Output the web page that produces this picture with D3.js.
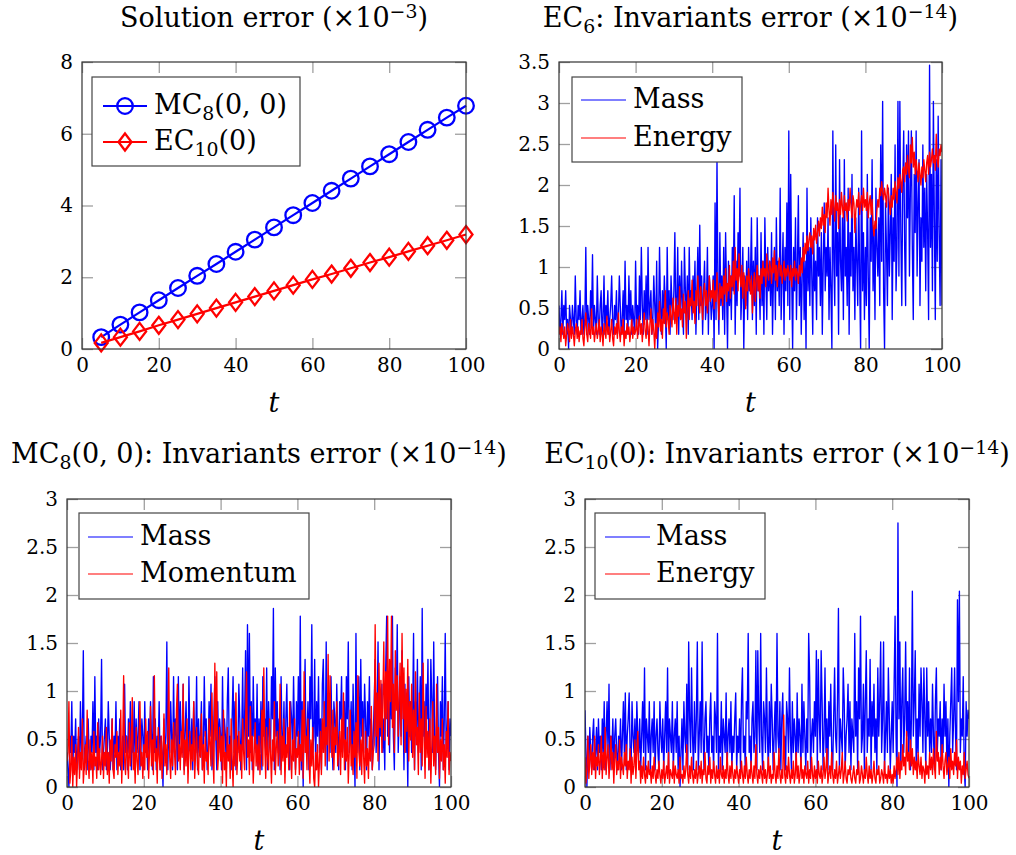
<!DOCTYPE html>
<html>
<head>
<meta charset="utf-8">
<script src="https://cdn.jsdelivr.net/npm/d3@7"></script>
<style>
  body { margin: 0; background: #fff; }
  svg { display: block; font-family: 'DejaVu Serif', 'Liberation Serif', serif; }
</style>
</head>
<body>
<svg width="1016" height="855"></svg>
<script>
// solution error (x1e-3), sampled every 5 time units
const solT = [5, 10, 15, 20, 25, 30, 35, 40, 45, 50, 55, 60, 65, 70, 75, 80, 85, 90, 95, 100]
const solMC8 = [0.33, 0.68, 1.02, 1.36, 1.70, 2.04, 2.37, 2.71, 3.05, 3.39, 3.73, 4.07, 4.41, 4.75, 5.09, 5.43, 5.77, 6.11, 6.45, 6.78]
const solEC10 = [0.17, 0.33, 0.49, 0.66, 0.82, 0.98, 1.14, 1.30, 1.46, 1.62, 1.78, 1.94, 2.09, 2.25, 2.41, 2.56, 2.72, 2.88, 3.03, 3.19]

// invariant errors (x1e-14), one value every 0.25 time units, t = 0..100
// (each line below covers 5 time units)
const ec6Mass = [
  0.53, 0.18, 0.36, 0.71, 0.18, 0.53, 0.36, 0.71, 0.18, 0.36, 0, 0.53, 0.36, 0.18, 0.53, 0.36, 0.18, 0.89, 0.36, 0.18,
  0.53, 0.36, 0.71, 0.18, 0.36, 0.53, 0.18, 0.36, 1.24, 0.18, 0.53, 0.36, 0.18, 0.71, 0.36, 1.15, 0.18, 0.53, 0.36, 0.18,
  0.89, 0.36, 0.18, 0.53, 0.71, 0.18, 0.36, 0.89, 0.18, 0.53, 0.36, 0.71, 0.18, 0.36, 0.53, 0.89, 0.36, 0.18, 0.53, 0.36,
  0.71, 0.18, 0.36, 0.89, 0.53, 0.18, 0.36, 0.71, 0.18, 1.07, 0.36, 0.53, 0.18, 0.89, 0.36, 0.71, 0.18, 0.53, 0.36, 0.18,
  1.07, 0.36, 0.53, 0.18, 0.89, 0.36, 1.24, 0.53, 0.18, 0.71, 0.36, 0.89, 0.18, 1.24, 0.36, 0.53, 0.71, 0.18, 0.36, 0.89,
  0.53, 0.18, 1.07, 0, 0.36, 1.24, 0.53, 0.18, 0.71, 0.36, 0.89, 0.53, 0, 1.24, 0.36, 0.71, 0.18, 0.89, 0.53, 0.36,
  0.71, 1.42, 0.36, 0.53, 1.24, 0.18, 0.89, 0.36, 1.07, 0.53, 0.18, 1.24, 0.71, 0.36, 0.89, 0.18, 1.24, 0.53, 0.71, 0.36,
  0.89, 0.53, 1.07, 0.18, 0.71, 1.24, 0.36, 1.51, 0.53, 0.89, 0.18, 0.71, 1.07, 0.36, 0.53, 1.24, 0.18, 0.89, 0.71, 0.36,
  0.53, 0.89, 0, 1.78, 0.36, 2.31, 0.71, 0.18, 1.42, 0.53, 0.89, 0.36, 1.24, 0.18, 1.42, 0.71, 0, 1.07, 0.53, 0.89,
  0.36, 1.24, 0.71, 1.87, 0.18, 1.07, 0.53, 1.42, 0.89, 1.96, 0.36, 0.71, 1.24, 0, 0.89, 0.53, 1.07, 0.36, 1.24, 0.71,
  0.89, 1.6, 0.36, 1.07, 0.53, 1.24, 0.18, 1.6, 0.71, 0.89, 0.36, 1.42, 0.53, 1.07, 0.18, 1.6, 0.89, 0.36, 1.24, 0.71,
  1.07, 0.53, 1.42, 0.18, 0.89, 1.24, 0.36, 1.6, 0.71, 1.07, 0.53, 1.96, 0.36, 0.89, 1.42, 0.18, 1.24, 0.71, 1.78, 0.53,
  2.66, 0.36, 2.13, 0.89, 0, 1.24, 0.71, 1.6, 0.36, 1.07, 1.87, 0.53, 1.24, 0.18, 0.89, 1.42, 0.36, 1.07, 0, 1.96,
  0.71, 1.24, 0.53, 1.6, 0.89, 0.18, 1.42, 0.71, 1.07, 0.36, 1.6, 0.89, 1.24, 0.53, 1.42, 0.18, 1.07, 1.78, 0.71, 1.24,
  0.89, 1.6, 0.36, 1.24, 0.71, 0, 2.66, 1.07, 0.53, 2.49, 0.89, 1.42, 0.18, 2.31, 1.07, 0.71, 1.6, 0.36, 2.31, 0.89,
  1.24, 0.53, 1.96, 0.18, 1.42, 0.89, 2.13, 0.71, 1.24, 0.36, 1.6, 1.07, 0.53, 1.96, 0.89, 0, 2.66, 0.71, 1.42, 0.36,
  1.24, 0.53, 2.13, 0.89, 0, 1.6, 1.07, 2.31, 0.71, 1.42, 0.36, 1.96, 1.24, 0.89, 1.6, 0.53, 2.49, 1.07, 3.02, 0.71,
  0, 1.78, 1.24, 0.53, 1.96, 0.89, 1.42, 2.13, 0.36, 1.6, 1.07, 2.49, 0.71, 1.24, 3.02, 0.89, 3.02, 1.42, 0.53, 1.96,
  2.66, 1.24, 0.53, 2.49, 1.6, 2.66, 0.89, 1.96, 2.66, 1.24, 0.36, 2.13, 1.42, 2.66, 0.89, 1.78, 2.31, 0.53, 1.6, 1.07,
  2.49, 1.24, 1.96, 0.71, 2.13, 1.42, 0.36, 3.46, 1.24, 2.13, 0.71, 3.02, 1.6, 0.36, 2.31, 1.07, 2.84, 1.42, 0.53, 2.31,
  0.53
]
const ec6Energy = [
  0.18, 0.27, 0.09, 0.31, 0.22, 0.13, 0.27, 0.04, 0.18, 0.31, 0.22, 0.09, 0.36, 0.13, 0.27, 0.18, 0.04, 0.22, 0.31, 0.13,
  0.27, 0.09, 0.22, 0.18, 0.36, 0.13, 0.04, 0.27, 0.44, 0.18, 0.09, 0.31, 0.22, 0.13, 0.49, 0.18, 0.27, 0.09, 0.22, 0.31,
  0.13, 0.22, 0.36, 0.09, 0.27, 0.18, 0.04, 0.31, 0.22, 0.13, 0.4, 0.18, 0.27, 0.09, 0.22, 0.36, 0.13, 0.04, 0.27, 0.18,
  0.31, 0.13, 0.44, 0.22, 0.09, 0.27, 0.18, 0.36, 0.04, 0.22, 0.13, 0.31, 0.18, 0.27, 0.09, 0.22, 0.36, 0.13, 0.27, 0.18,
  0.22, 0.36, 0.13, 0.27, 0.4, 0.18, 0.31, 0.09, 0.27, 0.44, 0.22, 0.13, 0.36, 0.27, 0.04, 0.31, 0.49, 0.18, 0.36, 0.22,
  0, 0.31, 0.13, 0.44, 0.27, 0.58, 0.22, 0.36, 0.13, 0.49, 0.31, 0.71, 0.27, 0.44, 0.36, 0.18, 0.53, 0.4, 0.27, 0.62,
  0.44, 0.31, 0.62, 0.18, 0.53, 0.4, 0.76, 0.36, 0.49, 0.27, 0.67, 0.44, 0.58, 0.13, 0.49, 0.71, 0.36, 0.62, 0.53, 0.84,
  0.44, 0.58, 0.31, 0.71, 0.53, 0.89, 0.62, 0.44, 0.76, 0.58, 0.36, 0.67, 0.8, 0.53, 0.71, 0.44, 0.62, 0.89, 0.58, 0.71,
  0.62, 0.84, 0.49, 0.71, 0.58, 0.93, 0.67, 0.36, 0.8, 0.62, 0.76, 0.53, 0.89, 0.67, 0.98, 0.58, 0.8, 0.71, 1.02, 0.62,
  0.89, 0.76, 1.07, 0.67, 1.24, 0.84, 0.98, 0.71, 1.16, 0.89, 0.76, 1.02, 0.62, 0.93, 0.8, 0.49, 0.89, 0.71, 0.98, 0.84,
  0.67, 0.89, 0.44, 0.76, 0.93, 0.58, 0.84, 1.02, 0.71, 0.89, 0.62, 0.98, 0.8, 1.07, 0.89, 0.98, 0.76, 1.16, 0.93, 0.84,
  1.07, 0.98, 0.8, 1.11, 0.93, 1.2, 0.84, 1.02, 0.76, 0.98, 1.11, 0.89, 1.02, 0.8, 0.93, 1.07, 0.84, 0.98, 0.89, 1.02,
  0.93, 0.84, 1.02, 0.76, 0.98, 0.89, 1.07, 0.84, 0.98, 0.93, 0.8, 1.02, 0.89, 1.11, 0.93, 1.24, 1.07, 1.29, 1.16, 1.38,
  1.2, 1.33, 1.42, 1.24, 1.38, 1.16, 1.47, 1.33, 1.51, 1.29, 1.42, 1.56, 1.38, 1.6, 1.47, 1.73, 1.51, 1.64, 1.42, 1.78,
  1.6, 1.96, 1.69, 1.51, 1.82, 1.64, 1.91, 1.73, 1.56, 1.87, 1.69, 1.78, 1.47, 1.82, 1.64, 1.91, 1.73, 1.6, 1.87, 1.69,
  1.78, 1.56, 1.82, 1.69, 1.96, 1.73, 1.6, 1.87, 1.78, 1.42, 1.69, 1.82, 1.73, 1.91, 1.64, 1.78, 1.87, 1.69, 1.96, 1.73,
  1.82, 1.69, 1.91, 1.6, 1.78, 1.87, 1.64, 1.82, 1.51, 1.38, 1.56, 1.47, 1.69, 1.82, 1.73, 1.96, 1.87, 2.04, 1.91, 1.82,
  1.96, 1.87, 1.73, 2.0, 1.91, 1.78, 1.64, 1.87, 1.73, 1.96, 1.82, 2.04, 1.91, 1.78, 2.09, 1.96, 2.13, 2.04, 1.91, 2.18,
  2.22, 2.04, 2.27, 2.13, 2.36, 2.18, 2.09, 2.49, 2.27, 2.58, 2.22, 2.4, 2.13, 2.31, 2.18, 2.04, 2.27, 2.13, 2.0, 2.22,
  2.09, 2.31, 2.18, 2.04, 2.27, 2.36, 2.13, 2.4, 2.22, 2.31, 2.44, 2.27, 2.36, 2.18, 2.62, 2.31, 2.22, 2.44, 2.36, 2.49,
  2.4
]
const mc8Mass = [
  0.36, 0.18, 0, 0.53, 0.36, 0.89, 0.18, 0.53, 0.36, 0.71, 0.18, 0.36, 0.53, 0.18, 0.89, 0.36, 0.53, 1.42, 0.18, 0.36,
  0.53, 0.18, 0.71, 0.36, 0.18, 0.53, 0.36, 0.89, 0.18, 1.15, 0.36, 0.53, 0.18, 0.71, 0.36, 0.53, 1.33, 0.18, 0.36, 0.53,
  0.71, 0.18, 0.36, 0.89, 0.53, 0.18, 0.36, 0.71, 0.18, 0.53, 0.36, 0.89, 0.18, 0.53, 0.36, 0.71, 0.18, 0.36, 0.53, 0.18,
  1.07, 0.36, 0.53, 0.18, 0.71, 0.36, 0.89, 0.18, 0.53, 0.36, 0.89, 0.18, 0.71, 0.36, 0.53, 0.89, 0.18, 0.36, 0.71, 0.53,
  0.18, 0.89, 0.36, 0.53, 0.18, 0.71, 0.36, 0.89, 0.53, 0.18, 1.15, 0.36, 0.71, 0.18, 0.53, 0.36, 0.89, 0.18, 0.53, 0.36,
  0, 0.71, 0.36, 0.53, 1.51, 0.18, 0.71, 0.36, 0.89, 0.53, 0.18, 1.15, 0.36, 0.71, 0.53, 0.18, 1.15, 0.36, 0.89, 0.53,
  0.36, 1.07, 0.18, 0.53, 0.89, 0.36, 0.18, 1.15, 0.53, 0.36, 0.71, 0.18, 0.89, 0.53, 0.36, 1.15, 0.18, 0.71, 0.36, 0.53,
  0.89, 0.18, 0.36, 1.15, 0.53, 0.71, 0.18, 0.36, 0.89, 0.53, 1.07, 0.18, 0.36, 0.71, 1.15, 0.53, 0.18, 0.89, 0.36, 0.71,
  0.53, 0.18, 1.15, 0.36, 0.71, 0.53, 0.18, 0.89, 1.24, 0.36, 0.53, 0.18, 0.71, 1.15, 0.36, 0.89, 0.18, 0.53, 0.36, 1.07,
  0.71, 0.18, 0.53, 1.24, 0.36, 0.71, 1.42, 0.18, 1.69, 0.53, 1.6, 0.36, 0.89, 0.18, 1.15, 0.53, 0.71, 0.36, 1.07, 0.18,
  0.71, 0.36, 0.89, 0.18, 1.15, 0.53, 0.71, 0.36, 1.24, 0.18, 0.89, 0.53, 0.36, 1.15, 0.71, 1.86, 0.18, 1.24, 0.53, 0.89,
  0.36, 0.71, 0.18, 1.15, 0.53, 0.36, 0.89, 0.18, 0.71, 1.07, 0.36, 0.53, 0.18, 0.89, 0.71, 0.36, 1.15, 0.53, 0.18, 0.89,
  0.53, 1.15, 0.36, 1.78, 0.18, 0.89, 0, 0.71, 1.33, 0.36, 0.53, 0.89, 0.18, 1.15, 0.71, 1.69, 0.36, 0.53, 1.33, 0.18,
  0.89, 0.53, 1.15, 0.36, 0.71, 0.18, 1.07, 1.33, 0.53, 0.36, 1.51, 0.18, 0.89, 0.71, 0.36, 1.15, 0.53, 0.18, 0.89, 0.71,
  0.36, 1.07, 0.53, 0.18, 0.89, 0.71, 1.15, 0.36, 0.53, 0.89, 0.18, 1.15, 0.71, 1.51, 0.36, 0.53, 0.89, 0.18, 1.07, 0.53,
  0, 1.6, 0.36, 0.71, 1.15, 0.18, 1.33, 0.53, 0.89, 0.36, 1.07, 0.71, 0.18, 0.89, 0.53, 1.15, 0.36, 0.71, 0.18, 0.53,
  0.89, 1.33, 0.36, 0.71, 1.51, 0.18, 0.89, 0.53, 1.07, 0.36, 0.71, 0.18, 1.24, 1.78, 0.53, 0.89, 0.36, 1.15, 0.71, 1.78,
  0.53, 0.18, 1.24, 0.89, 1.69, 0.36, 0.71, 1.15, 0.53, 1.42, 0.89, 0.18, 1.07, 0.36, 0.71, 0, 1.15, 0.53, 0.89, 0.36,
  0.71, 1.6, 0.18, 0.89, 0.53, 1.33, 0.36, 0.71, 1.15, 0.18, 1.86, 0.53, 0.89, 0.36, 1.07, 0.71, 1.33, 0.18, 0.53, 1.33,
  0.89, 0.36, 1.51, 0.53, 0.18, 0.71, 1.15, 0.36, 0, 0.89, 0.53, 1.15, 0.18, 0.71, 1.6, 0.36, 0.53, 0.89, 0.18, 0.71,
  0.53
]
const mc8Momentum = [
  0.27, 0.36, 0.89, 0.04, 0.18, 0.53, 0, 0.31, 0.13, 0.44, 0, 0.27, 0.62, 0.09, 0.36, 0.18, 0.71, 0.04, 0.22, 0.44,
  0.13, 0.8, 0.27, 0.09, 0.49, 0.18, 0.36, 0.04, 0.58, 0.22, 0.31, 0.09, 0.67, 0.18, 0.4, 0.13, 0.27, 0.53, 0.09, 0.36,
  0.22, 0.62, 0.13, 0.36, 0.04, 0.49, 0.27, 0.71, 0.18, 0.09, 0.44, 0.31, 0.58, 0.13, 0.36, 0.22, 0.8, 0.04, 0.4, 1.16,
  0.27, 0.13, 0.53, 0.31, 0.09, 0.67, 0.22, 0.44, 0.93, 0.18, 0.36, 0.04, 0.62, 0.27, 0.13, 0.49, 0.89, 0.22, 0.36, 0.09,
  0.44, 0.18, 0.71, 0.31, 0.58, 0.09, 0.36, 0.84, 0.22, 0.49, 0.13, 1.16, 0.27, 0.4, 0.04, 0.62, 0.31, 0.18, 0.53, 0.09,
  0.36, 0.76, 0.22, 0.44, 0.13, 0.58, 1.24, 0.31, 0.09, 0.49, 0.22, 0.67, 0.36, 0.13, 0.8, 1.07, 0.27, 0.44, 0.18, 0.58,
  0.31, 1.07, 0.13, 0.49, 0.22, 0.71, 0.04, 0.36, 0.58, 0.18, 0.44, 0.27, 0.89, 0.09, 0.36, 0.62, 0.22, 0.13, 0.53, 0.31,
  0.76, 0.18, 0.44, 0.04, 0.58, 0.27, 0.36, 0.13, 0.71, 0.44, 0.22, 0.98, 0.31, 0.04, 1.29, 0.49, 1.2, 0.18, 0.36, 0.62,
  0.27, 0.53, 0.04, 0.8, 0.18, 0.36, 0, 0.62, 0.27, 0.44, 0.09, 0.71, 0.31, 0, 0.49, 0.22, 0.98, 0.13, 0.36, 0.58,
  0.27, 0.44, 0.09, 0.71, 0.36, 0.18, 0.62, 1.2, 0.31, 0.49, 0.13, 0.84, 0.27, 0.53, 0.04, 0.36, 0.67, 0.22, 0.44, 0.18,
  0.53, 0.13, 0.36, 0.8, 0.22, 1.24, 0.44, 0.09, 0.62, 0.31, 0.18, 0.71, 0.36, 0.04, 0.49, 0.27, 0.89, 0.13, 0.4, 0.58,
  0.22, 0.36, 1.07, 0.13, 0.53, 0.27, 0.71, 0.04, 0.44, 0.31, 0.62, 0.18, 0.89, 0.36, 0.09, 0.49, 0.27, 0.71, 0.13, 0.4,
  0.31, 0.58, 0.13, 0.44, 0.27, 0.8, 0.09, 1.2, 0.36, 0.53, 0.18, 0.71, 0.31, 0.04, 0.49, 0.22, 0.62, 0.09, 0, 0.36,
  0.18, 0.44, 0, 0.27, 0.58, 0.13, 0.71, 0.36, 0.89, 0.22, 0.62, 0.44, 1.38, 0.27, 1.16, 0.53, 0.31, 0.8, 0.18, 0.62,
  0.44, 0.89, 0.22, 0.36, 0.58, 0.13, 0.71, 0.31, 0.98, 0.18, 0.49, 0.27, 0.62, 0.04, 0.36, 0.8, 0.22, 0.44, 0.13, 0.58,
  0.31, 0.67, 0.09, 1.16, 0.36, 0.22, 0.49, 0.13, 0.71, 0.31, 0.04, 0.58, 0.22, 0.4, 0.09, 0.53, 0.27, 0.84, 0.18, 0.36,
  0.44, 1.69, 0.53, 0.98, 0.27, 1.29, 0.62, 1.11, 0.36, 0.89, 1.51, 0.49, 1.2, 0.71, 1.78, 0.44, 1.33, 0.89, 1.78, 0.62,
  1.07, 0.36, 1.42, 0.8, 1.16, 0.53, 0.93, 1.29, 0.44, 1.6, 0.71, 1.24, 0.36, 1.02, 0.58, 1.33, 0.27, 0.89, 0.49, 1.07,
  0.31, 0.8, 0.18, 1.2, 0.44, 0.62, 0.13, 0.98, 0.36, 0.71, 0.22, 1.29, 0.49, 0.09, 0.84, 0.31, 0.58, 0.18, 0.71, 0.04,
  0.44, 0.89, 0.22, 0.53, 0.13, 1.07, 0.36, 0.62, 0.09, 0.49, 0.27, 0.71, 0.18, 0.44, 0.04, 0.58, 0.31, 0.89, 0.13, 0.36,
  0.27
]
const ec10Mass = [
  0.8, 0.36, 0, 0.53, 0.18, 0.62, 0.36, 0.18, 0.53, 0.71, 0.18, 0.36, 0.62, 0.18, 0.71, 0.36, 0.53, 0.18, 0.71, 0.36,
  0.89, 0.18, 0.53, 0.89, 0.36, 1.07, 0.18, 0.53, 0.36, 0.71, 0.18, 0.53, 0.71, 0.36, 0.18, 0.53, 0.36, 0.71, 0.18, 0.53,
  0.89, 0.36, 0.98, 0.18, 0.53, 0.71, 0.98, 0.36, 0.18, 0.89, 0.53, 0.36, 0.71, 0.18, 0.89, 0.53, 0.36, 0.71, 0.18, 0.53,
  0.89, 0.36, 1.24, 0.18, 0.71, 0.53, 0.36, 0.89, 0.18, 0.53, 0.71, 0.36, 0.89, 0.18, 0.53, 0.71, 0.36, 0.18, 0.89, 0.53,
  0.36, 0.71, 0.18, 0.53, 0.89, 0.36, 1.24, 0.18, 0.71, 0.53, 0.36, 0.89, 0.18, 0.53, 0.71, 0.36, 0.89, 0.18, 0.53, 0,
  0.36, 0.71, 0.18, 0.89, 0.53, 0.36, 1.07, 0.18, 1.51, 0.71, 0.36, 1.24, 0.53, 0.18, 0.89, 0.36, 0.71, 1.51, 0.18, 0.53,
  0.89, 0.36, 1.51, 0.53, 0.18, 0.71, 0.89, 0.36, 0.53, 0.18, 0.71, 0.98, 0.36, 0.53, 0.18, 0.89, 0.71, 0.36, 1.6, 0.18,
  0.53, 0.36, 0.89, 0.18, 0.71, 0.53, 0.36, 0.98, 0.18, 0.53, 0.71, 0.36, 0.89, 0.18, 0.53, 0.36, 0.71, 0.98, 0.18, 0.53,
  0.36, 0.71, 0.18, 0.89, 1.24, 0.36, 0.53, 0.18, 0.89, 0.71, 1.6, 0.36, 0.53, 0.18, 0.71, 0.89, 0.36, 0.53, 1.42, 0.18,
  1.42, 0.71, 0.36, 1.6, 0.53, 0.18, 0.89, 0.71, 0.36, 1.24, 0.53, 0.18, 0.89, 0.36, 1.07, 0.71, 0.18, 0.53, 0.89, 0.36,
  1.6, 0.53, 0.36, 0.89, 0.18, 0.71, 0.98, 0.36, 0.53, 0.18, 0.89, 0.71, 0.36, 1.24, 0.53, 0.18, 0.89, 0.36, 0.71, 0.53,
  0.18, 0.98, 0.36, 0.71, 0.53, 0.18, 1.07, 0.36, 0.89, 0.53, 0.18, 0.71, 0.36, 1.6, 1.15, 0.18, 0.53, 0.71, 0.36, 0.89,
  0.53, 1.42, 0.18, 1.33, 0.71, 0.36, 1.42, 0.89, 0.18, 0.53, 1.24, 0.36, 0.71, 0.18, 0.89, 0.53, 1.07, 0.36, 0.18, 0.71,
  1.24, 0.53, 0.36, 0.89, 1.86, 0.18, 0.71, 0.53, 0.36, 1.24, 0.89, 0.18, 0.53, 0.71, 1.07, 0.36, 0.89, 0.18, 0.71, 0.53,
  0.36, 1.6, 0.53, 0.89, 0.18, 1.24, 0.71, 1.78, 0.36, 0.53, 1.07, 0.18, 0.89, 1.42, 0.36, 0.71, 0.53, 1.33, 0.18, 0.89,
  0.53, 1.07, 0.36, 0.71, 0.18, 1.24, 0.53, 0.89, 1.51, 0.36, 0.71, 1.51, 0.18, 0.53, 0.89, 0.36, 1.24, 0.71, 0.18, 0.53,
  0.89, 0.36, 1.07, 1.78, 0.53, 0, 2.75, 0.71, 1.51, 0.18, 0.89, 1.24, 0.36, 0.71, 1.51, 0.53, 0.89, 0.36, 1.24, 0.18,
  0.71, 2.04, 0.53, 0.89, 1.42, 0.18, 0.71, 0.36, 1.07, 0.53, 1.24, 0.89, 0.36, 1.24, 0.71, 0.18, 1.24, 0.53, 0.89, 0.36,
  0.71, 0.36, 1.07, 0.53, 0.18, 0.89, 1.24, 0.36, 0.71, 0.53, 0.89, 0.18, 0.71, 0.36, 1.07, 0.53, 0.89, 0.18, 0.71, 0,
  0.53, 0.89, 1.24, 0.36, 0.71, 1.24, 0.53, 0.18, 1.95, 0.89, 2.04, 0.36, 0.71, 0.53, 1.15, 0.18, 0, 0.89, 0.53, 0.8,
  0.71
]
const ec10Energy = [
  0.31, 0.04, 0.18, 0.53, 0.09, 0.27, 0.44, 0.13, 0.36, 0.18, 0.53, 0.09, 0.31, 0.22, 0.44, 0.13, 0.27, 0.53, 0.09, 0.36,
  0.18, 0.62, 0.13, 0.31, 0.44, 0.09, 0.27, 0.53, 0.18, 0.36, 0.04, 0.31, 0.44, 0.13, 0.27, 0.18, 0.49, 0.09, 0.31, 0.22,
  0.13, 0.36, 0.22, 0.44, 0.09, 0.27, 0.18, 0.4, 0.04, 0.31, 0.13, 0.22, 0.49, 0.09, 0.36, 0.58, 0.18, 0.27, 0.04, 0.22,
  0.09, 0.31, 0.13, 0.04, 0.22, 0.09, 0.27, 0.13, 0.18, 0.04, 0.22, 0.09, 0.31, 0.13, 0.04, 0.18, 0.09, 0.27, 0.13, 0.04,
  0.18, 0.09, 0.27, 0.04, 0.13, 0.22, 0.09, 0.36, 0.04, 0.18, 0.13, 0.09, 0.27, 0.04, 0.22, 0.13, 0.09, 0.18, 0.04, 0.31,
  0.09, 0.13, 0.04, 0.22, 0.09, 0.18, 0.44, 0.13, 0.04, 0.22, 0.09, 0.31, 0.13, 0.04, 0.18, 0.09, 0.27, 0.04, 0.13, 0.22,
  0.09, 0.27, 0.04, 0.18, 0.13, 0.36, 0.09, 0.04, 0.22, 0.13, 0.31, 0.04, 0.18, 0.09, 0.27, 0.13, 0.04, 0.22, 0.09, 0.18,
  0.04, 0.31, 0.13, 0.09, 0.22, 0.04, 0.18, 0.09, 0.36, 0.13, 0.04, 0.22, 0.09, 0.27, 0.13, 0.04, 0.18, 0.09, 0.22, 0.13,
  0.04, 0.18, 0.09, 0.27, 0.13, 0.04, 0.22, 0.09, 0.31, 0.13, 0.04, 0.18, 0.09, 0.27, 0.13, 0.04, 0.22, 0.09, 0.44, 0.13,
  0.04, 0.18, 0.09, 0.22, 0.13, 0.04, 0.27, 0.09, 0.18, 0.04, 0.13, 0.31, 0.09, 0.22, 0.04, 0.13, 0.09, 0.36, 0.13, 0.04,
  0.22, 0.09, 0.4, 0.13, 0.04, 0.18, 0.09, 0.75, 0.13, 0.04, 0.22, 0.09, 0.31, 0.13, 0.04, 0.18, 0.09, 0.27, 0.04, 0.13,
  0.36, 0.09, 0.22, 0.04, 0.13, 0.31, 0.09, 0.18, 0.04, 0.22, 0.13, 0.09, 0.27, 0.04, 0.18, 0.09, 0.31, 0.13, 0.04, 0.22,
  0.09, 0.18, 0.04, 0.27, 0.13, 0.09, 0.22, 0.04, 0.13, 0.31, 0.09, 0.18, 0.4, 0.04, 0.13, 0.22, 0.09, 0.36, 0.13, 0.04,
  0.18, 0.09, 0.27, 0.04, 0.13, 0.22, 0.09, 0.18, 0.36, 0.04, 0.13, 0.27, 0.09, 0.04, 0.18, 0.13, 0.22, 0.09, 0.04, 0.13,
  0.22, 0.09, 0.04, 0.18, 0.13, 0.27, 0.04, 0.09, 0.22, 0.13, 0.04, 0.18, 0.09, 0.31, 0.13, 0.04, 0.22, 0.09, 0.18, 0.04,
  0.13, 0.27, 0.09, 0.04, 0.18, 0.13, 0.22, 0.04, 0.09, 0.18, 0.13, 0.04, 0.27, 0.09, 0.13, 0.04, 0.22, 0.09, 0.18, 0.04,
  0.13, 0.04, 0.22, 0.09, 0.18, 0.31, 0.13, 0.36, 0.09, 0.27, 0.18, 0.44, 0.22, 0.31, 0.13, 0.58, 0.27, 0.36, 0.18, 0.49,
  0.22, 0.4, 0.13, 0.31, 0.18, 0.27, 0.09, 0.36, 0.22, 0.13, 0.31, 0.09, 0.22, 0.18, 0.04, 0.27, 0.13, 0.22, 0.09, 0.36,
  0.18, 0.31, 0.13, 0.4, 0.22, 0.09, 0.58, 0.27, 0.36, 0.13, 0.31, 0.18, 0.44, 0.22, 0.09, 0.27, 0.36, 0.13, 0.22, 0.31,
  0.09, 0.4, 0.18, 0.27, 0.13, 0.36, 0.22, 0.49, 0.09, 0.31, 0.18, 0.27, 0.04, 0.22, 0.13, 0.36, 0.09, 0.18, 0.27, 0.13,
  0.09
]

const xTicks = [0, 20, 40, 60, 80, 100]
const yTicksSol = [0, 2, 4, 6, 8]
const yTicksEC6 = [0, 0.5, 1, 1.5, 2, 2.5, 3, 3.5]
const yTicksInv = [0, 0.5, 1, 1.5, 2, 2.5, 3]

const blue = '#0000ff'
const red = '#ff0000'
const tickFont = 20
const textFont = 27

const svg = d3.select('svg')

// text with sub/superscript pieces: parts = [[string, ''|'sub'|'sup'], ...]
function richText(text, parts, fs) {
  let shift = 0
  parts.forEach(function(p) {
    const target = p[1] === 'sub' ? 0.22 : p[1] === 'sup' ? -0.33 : 0
    text
      .append('tspan')
      .attr('dy', (target - shift) * fs)
      .style('font-size', p[1] ? fs * 0.7 + 'px' : null)
      .text(p[0])
    shift = target
  })
}

function drawPanel(p) {
  const g = svg.append('g')
  const x = d3.scaleLinear().domain([0, 100]).range([p.left, p.right])
  const y = d3.scaleLinear().domain([0, p.yMax]).range([p.bottom, p.top])

  // axes: inward ticks on all four sides, labels only bottom / left
  function styleAxis(a) {
    a.select('.domain').remove()
    a.selectAll('.tick line').attr('stroke', '#a0a0a0').attr('stroke-width', 1.3)
    a.selectAll('text').attr('fill', '#000').style('font-size', tickFont + 'px').style('font-family', 'DejaVu Serif, serif')
  }
  g.append('g')
    .attr('transform', `translate(0, ${p.bottom})`)
    .call(d3.axisBottom(x).tickValues(xTicks).tickFormat(d => d).tickSizeInner(-11).tickSizeOuter(0).tickPadding(9))
    .call(styleAxis)
  g.append('g')
    .attr('transform', `translate(0, ${p.top})`)
    .call(d3.axisTop(x).tickValues(xTicks).tickFormat('').tickSizeInner(-11).tickSizeOuter(0))
    .call(styleAxis)
  g.append('g')
    .attr('transform', `translate(${p.left}, 0)`)
    .call(d3.axisLeft(y).tickValues(p.yTicks).tickFormat(d => d).tickSizeInner(-11).tickSizeOuter(0).tickPadding(9))
    .call(styleAxis)
  g.append('g')
    .attr('transform', `translate(${p.right}, 0)`)
    .call(d3.axisRight(y).tickValues(p.yTicks).tickFormat('').tickSizeInner(-11).tickSizeOuter(0))
    .call(styleAxis)

  // clip for the data lines
  const clipId = 'clip' + p.id
  g.append('clipPath')
    .attr('id', clipId)
    .append('rect')
    .attr('x', p.left)
    .attr('y', p.top)
    .attr('width', p.right - p.left)
    .attr('height', p.bottom - p.top)

  p.series.forEach(function(s) {
    const line = d3
      .line()
      .x((d, i) => x(s.t ? s.t[i] : (i * 100) / (s.values.length - 1)))
      .y(d => y(d))
    g.append('path')
      .datum(s.values)
      .attr('clip-path', s.marker ? null : `url(#${clipId})`)
      .attr('fill', 'none')
      .attr('stroke', s.color)
      .attr('stroke-width', s.width)
      .attr('stroke-linejoin', 'round')
      .attr('d', line)
    if (s.marker) {
      g.selectAll(null)
        .data(s.values)
        .enter()
        .append('path')
        .attr('transform', (d, i) => `translate(${x(s.t[i])}, ${y(d)})`)
        .attr('d', s.marker)
        .attr('fill', 'none')
        .attr('stroke', s.color)
        .attr('stroke-width', 2.3)
    }
  })

  // frame
  g.append('rect')
    .attr('x', p.left)
    .attr('y', p.top)
    .attr('width', p.right - p.left)
    .attr('height', p.bottom - p.top)
    .attr('fill', 'none')
    .attr('stroke', '#333')
    .attr('stroke-width', 1.2)

  // title
  const title = g
    .append('text')
    .attr('x', (p.left + p.right) / 2)
    .attr('y', p.top - p.titleGap)
    .attr('text-anchor', 'middle')
    .style('font-size', textFont + 'px')
  richText(title, p.title, textFont)

  // x label
  g.append('text')
    .attr('x', (p.left + p.right) / 2)
    .attr('y', p.bottom + 63)
    .attr('text-anchor', 'middle')
    .style('font-size', textFont + 'px')
    .style('font-style', 'italic')
    .text('t')

  // legend
  const lg = p.legend
  g.append('rect')
    .attr('x', lg.x)
    .attr('y', lg.y)
    .attr('width', lg.w)
    .attr('height', lg.h)
    .attr('fill', '#fff')
    .attr('stroke', '#444')
    .attr('stroke-width', 1.2)
  p.series.forEach(function(s, i) {
    const cy = lg.rows[i]
    g.append('line')
      .attr('x1', lg.lineX[0])
      .attr('x2', lg.lineX[1])
      .attr('y1', cy)
      .attr('y2', cy)
      .attr('stroke', s.color)
      .attr('stroke-width', s.marker ? s.width : 1.1)
    if (s.marker) {
      g.append('path')
        .attr('transform', `translate(${(lg.lineX[0] + lg.lineX[1]) / 2}, ${cy})`)
        .attr('d', s.marker)
        .attr('fill', 'none')
        .attr('stroke', s.color)
        .attr('stroke-width', 2.3)
    }
    const t = g
      .append('text')
      .attr('x', lg.textX)
      .attr('y', cy + 8)
      .style('font-size', textFont + 'px')
    richText(t, s.label, textFont)
  })
}

const circle = d3.arc()({ innerRadius: 0, outerRadius: 7.8, startAngle: 0, endAngle: 2 * Math.PI })
const diamond = 'M0,-8.5L6.5,0L0,8.5L-6.5,0Z'

drawPanel({
  id: 1, left: 82, right: 466, top: 62, bottom: 349, yMax: 8, yTicks: yTicksSol, titleGap: 35,
  title: [['Solution error (×10', ''], ['−3', 'sup'], [')', '']],
  legend: { x: 92, y: 77, w: 208, h: 89, rows: [106, 142], lineX: [103, 147], textX: 154 },
  series: [
    { t: solT, values: solMC8, color: blue, width: 2.2, marker: circle, label: [['MC', ''], ['8', 'sub'], ['(0, 0)', '']] },
    { t: solT, values: solEC10, color: red, width: 2.2, marker: diamond, label: [['EC', ''], ['10', 'sub'], ['(0)', '']] }
  ]
})

drawPanel({
  id: 2, left: 559, right: 942, top: 62, bottom: 349, yMax: 3.5, yTicks: yTicksEC6, titleGap: 35,
  title: [['EC', ''], ['6', 'sub'], [': Invariants error (×10', ''], ['−14', 'sup'], [')', '']],
  legend: { x: 572, y: 77, w: 170, h: 85, rows: [100, 138], lineX: [581, 626], textX: 633 },
  series: [
    { values: ec6Mass, color: blue, width: 1.35, label: [['Mass', '']] },
    { values: ec6Energy, color: red, width: 1.35, label: [['Energy', '']] }
  ]
})

drawPanel({
  id: 3, left: 67, right: 451, top: 499, bottom: 787, yMax: 3, yTicks: yTicksInv, titleGap: 36,
  title: [['MC', ''], ['8', 'sub'], ['(0, 0): Invariants error (×10', ''], ['−14', 'sup'], [')', '']],
  legend: { x: 79, y: 513, w: 230, h: 86, rows: [537, 574], lineX: [88, 133], textX: 140 },
  series: [
    { values: mc8Mass, color: blue, width: 1.35, label: [['Mass', '']] },
    { values: mc8Momentum, color: red, width: 1.35, label: [['Momentum', '']] }
  ]
})

drawPanel({
  id: 4, left: 585, right: 969, top: 499, bottom: 787, yMax: 3, yTicks: yTicksInv, titleGap: 36,
  title: [['EC', ''], ['10', 'sub'], ['(0): Invariants error (×10', ''], ['−14', 'sup'], [')', '']],
  legend: { x: 595, y: 513, w: 170, h: 86, rows: [537, 574], lineX: [605, 650], textX: 656 },
  series: [
    { values: ec10Mass, color: blue, width: 1.35, label: [['Mass', '']] },
    { values: ec10Energy, color: red, width: 1.35, label: [['Energy', '']] }
  ]
})
</script>
</body>
</html>
